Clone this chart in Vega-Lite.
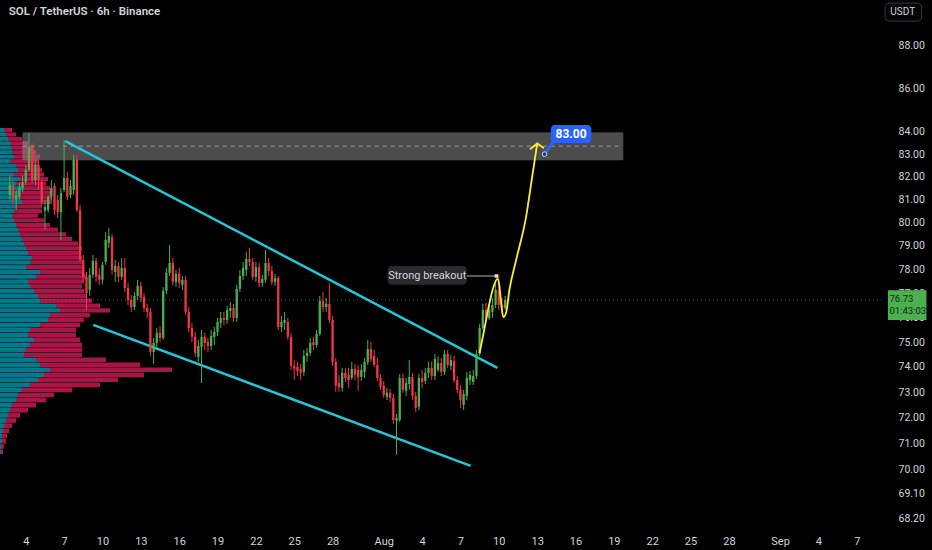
{
  "$schema": "https://vega.github.io/schema/vega-lite/v6.json",
  "width": 888,
  "height": 528,
  "autosize": {"type": "none"},
  "padding": {"left": 0, "top": 0, "right": 44, "bottom": 22},
  "background": "#000000",
  "config": {
    "view": {"stroke": null},
    "font": "Roboto",
    "text": {"font": "Roboto"}
  },
  "datasets": {
    "candles": [
      {"t":"2025-07-02T18:00Z","o":81.19,"h":82.07,"l":80.98,"c":81.63},
      {"t":"2025-07-03T00:00Z","o":81.63,"h":81.85,"l":80.76,"c":80.98},
      {"t":"2025-07-03T06:00Z","o":80.98,"h":81.41,"l":80.54,"c":81.19},
      {"t":"2025-07-03T12:00Z","o":81.11,"h":81.72,"l":80.98,"c":81.55},
      {"t":"2025-07-03T18:00Z","o":81.50,"h":82.07,"l":81.33,"c":81.77},
      {"t":"2025-07-04T00:00Z","o":81.77,"h":82.52,"l":81.63,"c":82.30},
      {"t":"2025-07-04T06:00Z","o":82.30,"h":83.95,"l":82.21,"c":83.32},
      {"t":"2025-07-04T12:00Z","o":83.32,"h":83.50,"l":81.72,"c":81.85},
      {"t":"2025-07-04T18:00Z","o":81.85,"h":82.74,"l":81.63,"c":82.52},
      {"t":"2025-07-05T00:00Z","o":82.52,"h":82.74,"l":81.41,"c":81.85},
      {"t":"2025-07-05T06:00Z","o":81.77,"h":81.85,"l":80.71,"c":80.89},
      {"t":"2025-07-05T12:00Z","o":80.50,"h":80.98,"l":79.68,"c":80.67},
      {"t":"2025-07-05T18:00Z","o":80.54,"h":81.19,"l":80.41,"c":81.11},
      {"t":"2025-07-06T00:00Z","o":81.11,"h":81.85,"l":80.98,"c":81.50},
      {"t":"2025-07-06T06:00Z","o":81.59,"h":81.72,"l":80.32,"c":80.54},
      {"t":"2025-07-06T12:00Z","o":80.98,"h":81.19,"l":80.19,"c":80.45},
      {"t":"2025-07-06T18:00Z","o":80.45,"h":81.50,"l":79.25,"c":81.28},
      {"t":"2025-07-07T00:00Z","o":81.41,"h":83.64,"l":81.33,"c":81.94},
      {"t":"2025-07-07T06:00Z","o":81.94,"h":82.21,"l":80.98,"c":81.11},
      {"t":"2025-07-07T12:00Z","o":81.19,"h":81.85,"l":81.06,"c":81.59},
      {"t":"2025-07-07T18:00Z","o":81.41,"h":82.96,"l":81.19,"c":82.74},
      {"t":"2025-07-08T00:00Z","o":82.74,"h":82.96,"l":80.45,"c":80.54},
      {"t":"2025-07-08T06:00Z","o":80.54,"h":80.76,"l":78.31,"c":78.40},
      {"t":"2025-07-08T12:00Z","o":78.40,"h":78.61,"l":77.47,"c":77.68},
      {"t":"2025-07-08T18:00Z","o":77.68,"h":77.89,"l":76.31,"c":77.01},
      {"t":"2025-07-09T00:00Z","o":77.14,"h":78.06,"l":76.89,"c":77.77},
      {"t":"2025-07-09T06:00Z","o":77.77,"h":78.61,"l":77.64,"c":78.35},
      {"t":"2025-07-09T12:00Z","o":78.35,"h":78.48,"l":77.47,"c":77.68},
      {"t":"2025-07-09T18:00Z","o":77.77,"h":78.06,"l":77.35,"c":77.56},
      {"t":"2025-07-10T00:00Z","o":77.56,"h":78.31,"l":77.39,"c":78.19},
      {"t":"2025-07-10T06:00Z","o":78.31,"h":79.59,"l":78.19,"c":79.25},
      {"t":"2025-07-10T12:00Z","o":79.12,"h":79.76,"l":78.91,"c":79.42},
      {"t":"2025-07-10T18:00Z","o":79.38,"h":79.50,"l":77.77,"c":77.98},
      {"t":"2025-07-11T00:00Z","o":77.89,"h":78.40,"l":77.47,"c":78.14},
      {"t":"2025-07-11T06:00Z","o":78.14,"h":78.31,"l":77.47,"c":77.68},
      {"t":"2025-07-11T12:00Z","o":77.68,"h":78.48,"l":77.56,"c":78.06},
      {"t":"2025-07-11T18:00Z","o":78.06,"h":78.48,"l":77.05,"c":77.22},
      {"t":"2025-07-12T00:00Z","o":77.22,"h":77.43,"l":76.52,"c":76.72},
      {"t":"2025-07-12T06:00Z","o":76.72,"h":76.93,"l":76.23,"c":76.43},
      {"t":"2025-07-12T12:00Z","o":76.43,"h":77.05,"l":76.31,"c":76.89},
      {"t":"2025-07-12T18:00Z","o":76.89,"h":77.56,"l":76.72,"c":77.31},
      {"t":"2025-07-13T00:00Z","o":77.31,"h":77.47,"l":76.64,"c":76.81},
      {"t":"2025-07-13T06:00Z","o":76.85,"h":77.01,"l":76.23,"c":76.39},
      {"t":"2025-07-13T12:00Z","o":76.39,"h":76.56,"l":75.98,"c":76.23},
      {"t":"2025-07-13T18:00Z","o":76.23,"h":76.39,"l":74.44,"c":74.60},
      {"t":"2025-07-14T00:00Z","o":74.60,"h":75.17,"l":74.12,"c":74.96},
      {"t":"2025-07-14T06:00Z","o":74.96,"h":75.57,"l":74.80,"c":75.37},
      {"t":"2025-07-14T12:00Z","o":75.37,"h":75.65,"l":75.00,"c":75.17},
      {"t":"2025-07-14T18:00Z","o":75.17,"h":77.26,"l":75.09,"c":77.10},
      {"t":"2025-07-15T00:00Z","o":77.10,"h":78.06,"l":76.97,"c":77.85},
      {"t":"2025-07-15T06:00Z","o":77.85,"h":79.03,"l":77.72,"c":78.27},
      {"t":"2025-07-15T12:00Z","o":78.27,"h":78.48,"l":77.31,"c":77.47},
      {"t":"2025-07-15T18:00Z","o":77.47,"h":77.98,"l":77.26,"c":77.81},
      {"t":"2025-07-16T00:00Z","o":77.81,"h":78.06,"l":77.22,"c":77.43},
      {"t":"2025-07-16T06:00Z","o":77.35,"h":77.72,"l":77.14,"c":77.56},
      {"t":"2025-07-16T12:00Z","o":77.56,"h":77.72,"l":76.11,"c":76.23},
      {"t":"2025-07-16T18:00Z","o":76.23,"h":76.43,"l":75.41,"c":75.57},
      {"t":"2025-07-17T00:00Z","o":75.57,"h":75.78,"l":75.00,"c":75.21},
      {"t":"2025-07-17T06:00Z","o":75.21,"h":75.41,"l":74.40,"c":74.56},
      {"t":"2025-07-17T12:00Z","o":74.40,"h":75.09,"l":74.20,"c":74.84},
      {"t":"2025-07-17T18:00Z","o":74.80,"h":75.49,"l":73.36,"c":75.21},
      {"t":"2025-07-18T00:00Z","o":75.21,"h":75.37,"l":74.68,"c":74.96},
      {"t":"2025-07-18T06:00Z","o":75.00,"h":75.17,"l":74.60,"c":74.84},
      {"t":"2025-07-18T12:00Z","o":74.84,"h":75.49,"l":74.68,"c":75.25},
      {"t":"2025-07-18T18:00Z","o":75.21,"h":75.61,"l":74.88,"c":75.41},
      {"t":"2025-07-19T00:00Z","o":75.41,"h":75.98,"l":75.25,"c":75.82},
      {"t":"2025-07-19T06:00Z","o":75.78,"h":76.23,"l":75.57,"c":75.98},
      {"t":"2025-07-19T12:00Z","o":75.98,"h":76.23,"l":75.70,"c":75.90},
      {"t":"2025-07-19T18:00Z","o":75.90,"h":76.48,"l":75.74,"c":76.31},
      {"t":"2025-07-20T00:00Z","o":76.27,"h":76.64,"l":75.98,"c":76.39},
      {"t":"2025-07-20T06:00Z","o":76.39,"h":76.56,"l":75.82,"c":75.98},
      {"t":"2025-07-20T12:00Z","o":75.98,"h":77.35,"l":75.82,"c":77.18},
      {"t":"2025-07-20T18:00Z","o":77.18,"h":77.98,"l":77.05,"c":77.72},
      {"t":"2025-07-21T00:00Z","o":77.72,"h":78.31,"l":77.56,"c":78.06},
      {"t":"2025-07-21T06:00Z","o":77.98,"h":78.74,"l":77.72,"c":78.44},
      {"t":"2025-07-21T12:00Z","o":78.44,"h":78.91,"l":78.14,"c":78.31},
      {"t":"2025-07-21T18:00Z","o":78.31,"h":78.48,"l":77.56,"c":77.68},
      {"t":"2025-07-22T00:00Z","o":77.68,"h":78.31,"l":77.47,"c":78.10},
      {"t":"2025-07-22T06:00Z","o":78.10,"h":78.27,"l":77.26,"c":77.43},
      {"t":"2025-07-22T12:00Z","o":77.43,"h":77.77,"l":77.26,"c":77.60},
      {"t":"2025-07-22T18:00Z","o":77.56,"h":78.82,"l":77.43,"c":78.27},
      {"t":"2025-07-23T00:00Z","o":78.27,"h":78.48,"l":77.72,"c":77.93},
      {"t":"2025-07-23T06:00Z","o":77.93,"h":78.14,"l":77.35,"c":77.47},
      {"t":"2025-07-23T12:00Z","o":77.47,"h":77.81,"l":77.31,"c":77.64},
      {"t":"2025-07-23T18:00Z","o":77.64,"h":77.72,"l":75.49,"c":75.61},
      {"t":"2025-07-24T00:00Z","o":75.61,"h":76.06,"l":75.41,"c":75.82},
      {"t":"2025-07-24T06:00Z","o":75.78,"h":76.23,"l":75.49,"c":75.90},
      {"t":"2025-07-24T12:00Z","o":75.82,"h":75.98,"l":75.09,"c":75.21},
      {"t":"2025-07-24T18:00Z","o":75.21,"h":75.37,"l":73.88,"c":74.04},
      {"t":"2025-07-25T00:00Z","o":74.04,"h":74.28,"l":73.48,"c":73.92},
      {"t":"2025-07-25T06:00Z","o":74.00,"h":74.20,"l":73.64,"c":73.84},
      {"t":"2025-07-25T12:00Z","o":73.92,"h":74.12,"l":73.48,"c":73.76},
      {"t":"2025-07-25T18:00Z","o":73.80,"h":74.68,"l":73.64,"c":74.44},
      {"t":"2025-07-26T00:00Z","o":74.44,"h":74.76,"l":74.20,"c":74.56},
      {"t":"2025-07-26T06:00Z","o":74.56,"h":75.17,"l":74.44,"c":74.96},
      {"t":"2025-07-26T12:00Z","o":75.00,"h":75.21,"l":74.68,"c":74.88},
      {"t":"2025-07-26T18:00Z","o":74.88,"h":75.49,"l":74.76,"c":75.33},
      {"t":"2025-07-27T00:00Z","o":75.33,"h":76.89,"l":75.25,"c":76.68},
      {"t":"2025-07-27T06:00Z","o":76.68,"h":77.05,"l":76.23,"c":76.43},
      {"t":"2025-07-27T12:00Z","o":76.43,"h":76.81,"l":76.23,"c":76.56},
      {"t":"2025-07-27T18:00Z","o":76.56,"h":77.43,"l":75.78,"c":75.90},
      {"t":"2025-07-28T00:00Z","o":75.90,"h":76.06,"l":74.04,"c":74.20},
      {"t":"2025-07-28T06:00Z","o":74.20,"h":74.36,"l":73.01,"c":73.25},
      {"t":"2025-07-28T12:00Z","o":73.36,"h":73.68,"l":73.01,"c":73.20},
      {"t":"2025-07-28T18:00Z","o":73.17,"h":73.96,"l":73.01,"c":73.76},
      {"t":"2025-07-29T00:00Z","o":73.76,"h":73.96,"l":73.40,"c":73.56},
      {"t":"2025-07-29T06:00Z","o":73.68,"h":73.96,"l":73.17,"c":73.48},
      {"t":"2025-07-29T12:00Z","o":73.56,"h":74.20,"l":73.48,"c":73.92},
      {"t":"2025-07-29T18:00Z","o":73.92,"h":74.12,"l":73.48,"c":73.68},
      {"t":"2025-07-30T00:00Z","o":73.88,"h":74.08,"l":73.05,"c":73.60},
      {"t":"2025-07-30T06:00Z","o":73.60,"h":74.12,"l":73.44,"c":73.88},
      {"t":"2025-07-30T12:00Z","o":73.80,"h":74.36,"l":73.56,"c":74.20},
      {"t":"2025-07-30T18:00Z","o":74.20,"h":75.09,"l":74.08,"c":74.72},
      {"t":"2025-07-31T00:00Z","o":74.72,"h":75.00,"l":74.20,"c":74.32},
      {"t":"2025-07-31T06:00Z","o":74.44,"h":74.68,"l":74.00,"c":74.08},
      {"t":"2025-07-31T12:00Z","o":74.08,"h":74.36,"l":73.44,"c":73.56},
      {"t":"2025-07-31T18:00Z","o":73.56,"h":73.72,"l":73.09,"c":73.20},
      {"t":"2025-08-01T00:00Z","o":73.25,"h":73.44,"l":72.77,"c":72.89},
      {"t":"2025-08-01T06:00Z","o":72.81,"h":73.17,"l":72.69,"c":72.97},
      {"t":"2025-08-01T12:00Z","o":72.97,"h":73.13,"l":72.62,"c":72.77},
      {"t":"2025-08-01T18:00Z","o":72.77,"h":72.93,"l":71.76,"c":71.91},
      {"t":"2025-08-02T00:00Z","o":71.88,"h":72.15,"l":70.57,"c":71.99},
      {"t":"2025-08-02T06:00Z","o":71.91,"h":73.72,"l":71.84,"c":73.56},
      {"t":"2025-08-02T12:00Z","o":73.56,"h":73.72,"l":72.97,"c":73.09},
      {"t":"2025-08-02T18:00Z","o":73.05,"h":73.56,"l":72.85,"c":73.36},
      {"t":"2025-08-03T00:00Z","o":73.32,"h":74.28,"l":73.09,"c":73.60},
      {"t":"2025-08-03T06:00Z","o":73.60,"h":73.76,"l":72.69,"c":72.85},
      {"t":"2025-08-03T12:00Z","o":72.85,"h":73.01,"l":72.23,"c":72.38},
      {"t":"2025-08-03T18:00Z","o":72.42,"h":73.72,"l":72.30,"c":73.56},
      {"t":"2025-08-04T00:00Z","o":73.56,"h":73.88,"l":73.17,"c":73.40},
      {"t":"2025-08-04T06:00Z","o":73.44,"h":73.96,"l":73.32,"c":73.76},
      {"t":"2025-08-04T12:00Z","o":73.76,"h":74.20,"l":73.56,"c":73.96},
      {"t":"2025-08-04T18:00Z","o":73.96,"h":74.20,"l":73.48,"c":73.64},
      {"t":"2025-08-05T00:00Z","o":73.64,"h":74.52,"l":73.48,"c":74.32},
      {"t":"2025-08-05T06:00Z","o":73.88,"h":74.44,"l":73.80,"c":74.16},
      {"t":"2025-08-05T12:00Z","o":74.16,"h":74.36,"l":73.64,"c":73.80},
      {"t":"2025-08-05T18:00Z","o":73.80,"h":74.68,"l":73.68,"c":74.52},
      {"t":"2025-08-06T00:00Z","o":74.52,"h":74.68,"l":73.96,"c":74.08},
      {"t":"2025-08-06T06:00Z","o":74.04,"h":74.48,"l":73.88,"c":74.28},
      {"t":"2025-08-06T12:00Z","o":74.24,"h":74.44,"l":73.36,"c":73.48},
      {"t":"2025-08-06T18:00Z","o":73.48,"h":73.64,"l":72.97,"c":73.09},
      {"t":"2025-08-07T00:00Z","o":73.09,"h":73.28,"l":72.38,"c":72.69},
      {"t":"2025-08-07T06:00Z","o":72.50,"h":73.09,"l":72.30,"c":72.93},
      {"t":"2025-08-07T12:00Z","o":72.85,"h":73.80,"l":72.69,"c":73.56},
      {"t":"2025-08-07T18:00Z","o":73.48,"h":73.84,"l":73.28,"c":73.68},
      {"t":"2025-08-08T00:00Z","o":73.40,"h":73.88,"l":73.28,"c":73.64},
      {"t":"2025-08-08T06:00Z","o":73.64,"h":74.68,"l":73.52,"c":74.52},
      {"t":"2025-08-08T12:00Z","o":74.52,"h":75.74,"l":74.44,"c":75.57},
      {"t":"2025-08-08T18:00Z","o":75.57,"h":76.56,"l":75.49,"c":76.31},
      {"t":"2025-08-09T00:00Z","o":76.31,"h":76.60,"l":75.82,"c":75.98},
      {"t":"2025-08-09T06:00Z","o":75.98,"h":76.56,"l":75.90,"c":76.31},
      {"t":"2025-08-09T12:00Z","o":76.23,"h":76.81,"l":75.98,"c":76.52},
      {"t":"2025-08-09T18:00Z","o":76.52,"h":77.43,"l":76.39,"c":77.14},
      {"t":"2025-08-10T00:00Z","o":77.14,"h":77.77,"l":76.31,"c":76.52},
      {"t":"2025-08-10T06:00Z","o":76.52,"h":76.81,"l":76.15,"c":76.39},
      {"t":"2025-08-10T12:00Z","o":76.39,"h":76.89,"l":76.31,"c":76.73}
    ],
    "profile": [
      {"lo":84.0,"hi":84.18,"up":4,"tot":12},
      {"lo":83.8,"hi":83.98,"up":6,"tot":16},
      {"lo":83.6,"hi":83.78,"up":8,"tot":22},
      {"lo":83.4,"hi":83.58,"up":10,"tot":28},
      {"lo":83.2,"hi":83.38,"up":12,"tot":34},
      {"lo":83.0,"hi":83.18,"up":12,"tot":36},
      {"lo":82.8,"hi":82.98,"up":14,"tot":40},
      {"lo":82.6,"hi":82.78,"up":10,"tot":38},
      {"lo":82.4,"hi":82.58,"up":16,"tot":38},
      {"lo":82.2,"hi":82.38,"up":18,"tot":42},
      {"lo":82.0,"hi":82.18,"up":14,"tot":44},
      {"lo":81.8,"hi":81.98,"up":20,"tot":48},
      {"lo":81.6,"hi":81.78,"up":16,"tot":46},
      {"lo":81.4,"hi":81.58,"up":24,"tot":50},
      {"lo":81.2,"hi":81.38,"up":20,"tot":52},
      {"lo":81.0,"hi":81.18,"up":18,"tot":52},
      {"lo":80.8,"hi":80.98,"up":22,"tot":52},
      {"lo":80.6,"hi":80.78,"up":16,"tot":42},
      {"lo":80.4,"hi":80.58,"up":14,"tot":42},
      {"lo":80.2,"hi":80.38,"up":12,"tot":38},
      {"lo":80.0,"hi":80.18,"up":14,"tot":44},
      {"lo":79.8,"hi":79.98,"up":16,"tot":50},
      {"lo":79.6,"hi":79.78,"up":18,"tot":58},
      {"lo":79.4,"hi":79.58,"up":20,"tot":66},
      {"lo":79.2,"hi":79.38,"up":22,"tot":72},
      {"lo":79.0,"hi":79.18,"up":24,"tot":78},
      {"lo":78.8,"hi":78.98,"up":26,"tot":82},
      {"lo":78.6,"hi":78.78,"up":28,"tot":80},
      {"lo":78.4,"hi":78.58,"up":32,"tot":82},
      {"lo":78.2,"hi":78.38,"up":30,"tot":82},
      {"lo":78.0,"hi":78.18,"up":26,"tot":84},
      {"lo":77.8,"hi":77.98,"up":40,"tot":84},
      {"lo":77.6,"hi":77.78,"up":36,"tot":86},
      {"lo":77.4,"hi":77.58,"up":28,"tot":84},
      {"lo":77.2,"hi":77.38,"up":30,"tot":82},
      {"lo":77.0,"hi":77.18,"up":34,"tot":84},
      {"lo":76.8,"hi":76.98,"up":38,"tot":86},
      {"lo":76.6,"hi":76.78,"up":40,"tot":92},
      {"lo":76.4,"hi":76.58,"up":56,"tot":100},
      {"lo":76.2,"hi":76.38,"up":60,"tot":110},
      {"lo":76.0,"hi":76.18,"up":50,"tot":90},
      {"lo":75.8,"hi":75.98,"up":48,"tot":84},
      {"lo":75.6,"hi":75.78,"up":40,"tot":80},
      {"lo":75.4,"hi":75.58,"up":30,"tot":76},
      {"lo":75.2,"hi":75.38,"up":28,"tot":76},
      {"lo":75.0,"hi":75.18,"up":34,"tot":80},
      {"lo":74.8,"hi":74.98,"up":30,"tot":82},
      {"lo":74.6,"hi":74.78,"up":26,"tot":82},
      {"lo":74.4,"hi":74.58,"up":24,"tot":82},
      {"lo":74.2,"hi":74.38,"up":36,"tot":106},
      {"lo":74.0,"hi":74.18,"up":40,"tot":140},
      {"lo":73.8,"hi":73.98,"up":50,"tot":172},
      {"lo":73.6,"hi":73.78,"up":44,"tot":144},
      {"lo":73.4,"hi":73.58,"up":38,"tot":118},
      {"lo":73.2,"hi":73.38,"up":30,"tot":100},
      {"lo":73.0,"hi":73.18,"up":22,"tot":72},
      {"lo":72.8,"hi":72.98,"up":18,"tot":54},
      {"lo":72.6,"hi":72.78,"up":16,"tot":46},
      {"lo":72.4,"hi":72.58,"up":12,"tot":36},
      {"lo":72.2,"hi":72.38,"up":10,"tot":28},
      {"lo":72.0,"hi":72.18,"up":8,"tot":20},
      {"lo":71.8,"hi":71.98,"up":6,"tot":16},
      {"lo":71.6,"hi":71.78,"up":4,"tot":12},
      {"lo":71.4,"hi":71.58,"up":3,"tot":9},
      {"lo":71.2,"hi":71.38,"up":2,"tot":7},
      {"lo":71.0,"hi":71.18,"up":2,"tot":6},
      {"lo":70.8,"hi":70.98,"up":1,"tot":4},
      {"lo":70.6,"hi":70.78,"up":1,"tot":3}
    ],
    "channel": [
      {"id":"upper","t":"2025-07-07T02:15Z","p":83.59},
      {"id":"upper","t":"2025-08-09T21:23Z","p":73.96},
      {"id":"lower","t":"2025-07-09T06:46Z","p":75.70},
      {"id":"lower","t":"2025-08-07T19:16Z","p":70.15}
    ],
    "curve": [
      {"i":0,"t":"2025-08-08T11:58Z","p":74.56},
      {"i":1,"t":"2025-08-08T21:16Z","p":75.57},
      {"i":2,"t":"2025-08-09T06:33Z","p":76.60},
      {"i":3,"t":"2025-08-09T13:58Z","p":77.26},
      {"i":4,"t":"2025-08-09T21:23Z","p":77.60},
      {"i":5,"t":"2025-08-10T01:06Z","p":77.31},
      {"i":6,"t":"2025-08-10T04:48Z","p":76.52},
      {"i":7,"t":"2025-08-10T08:31Z","p":76.02},
      {"i":8,"t":"2025-08-10T14:05Z","p":76.23},
      {"i":9,"t":"2025-08-10T19:39Z","p":77.10},
      {"i":10,"t":"2025-08-11T08:40Z","p":78.40},
      {"i":11,"t":"2025-08-12T03:13Z","p":80.24},
      {"i":12,"t":"2025-08-12T14:21Z","p":81.94},
      {"i":13,"t":"2025-08-12T21:46Z","p":83.10},
      {"i":14,"t":"2025-08-13T00:11Z","p":83.48}
    ],
    "head": [
      {"i":0,"t":"2025-08-12T10:38Z","p":83.22},
      {"i":1,"t":"2025-08-13T00:11Z","p":83.49},
      {"i":2,"t":"2025-08-13T12:37Z","p":83.27}
    ]
  },
  "layer": [
    {
      "data": {"name": "profile"},
      "layer": [
        {
          "mark": {"type": "bar", "color": "#e91e63", "opacity": 0.72},
          "encoding": {
            "x": {"field": "tot", "type": "quantitative", "scale": {"domain": [0, 888], "nice": false, "zero": true}, "axis": null},
            "x2": {"field": "up"},
            "y": {"field": "lo", "type": "quantitative", "scale": {"type": "log", "domain": [67.84, 90.2], "nice": false, "zero": false}},
            "y2": {"field": "hi"}
          }
        },
        {
          "mark": {"type": "bar", "color": "#00bcd4", "opacity": 0.65},
          "encoding": {
            "x": {"field": "up", "type": "quantitative"},
            "x2": {"datum": 0},
            "y": {"field": "lo", "type": "quantitative"},
            "y2": {"field": "hi"}
          }
        }
      ]
    },
    {
      "layer": [
        {
          "data": {"values": [{"t": "2025-07-03T18:26Z", "t2": "2025-08-19T17:05Z", "p": 83.97, "p2": 82.74}]},
          "mark": {"type": "rect", "color": "#8a8a8a", "opacity": 0.55, "stroke": "#9598a1", "strokeWidth": 1, "strokeOpacity": 0.6},
          "encoding": {
            "x": {"field": "t", "type": "temporal"},
            "x2": {"field": "t2"},
            "y": {"field": "p", "type": "quantitative"},
            "y2": {"field": "p2"}
          }
        },
        {
          "data": {"values": [{"t": "2025-07-03T18:26Z", "t2": "2025-08-19T17:05Z", "p": 83.36}]},
          "mark": {"type": "rule", "color": "#a0a0a0", "strokeDash": [4, 4], "strokeWidth": 1},
          "encoding": {
            "x": {"field": "t", "type": "temporal"},
            "x2": {"field": "t2"},
            "y": {"field": "p", "type": "quantitative"}
          }
        },
        {
          "data": {"values": [{"t": "2025-07-02T09:01Z", "t2": "2025-09-09T01:16Z", "p": 76.73}]},
          "mark": {"type": "rule", "color": "#4caf50", "opacity": 0.6, "strokeDash": [1, 3], "strokeWidth": 1},
          "encoding": {
            "x": {"field": "t", "type": "temporal"},
            "x2": {"field": "t2"},
            "y": {"field": "p", "type": "quantitative"}
          }
        },
        {
          "data": {"name": "channel"},
          "mark": {"type": "line", "color": "#26c6da", "strokeWidth": 2.5},
          "encoding": {
            "x": {"field": "t", "type": "temporal"},
            "y": {"field": "p", "type": "quantitative"},
            "detail": {"field": "id", "type": "nominal"}
          }
        },
        {
          "data": {"name": "candles"},
          "mark": {"type": "rule", "strokeWidth": 1},
          "encoding": {
            "x": {
              "field": "t", "type": "temporal", "title": null,
              "scale": {"type": "utc", "domain": [
                {"year": 2025, "month": 7, "date": 2, "hours": 9, "minutes": 1, "utc": true},
                {"year": 2025, "month": 9, "date": 9, "hours": 1, "minutes": 16, "utc": true}
              ]},
              "axis": {
                "orient": "bottom",
                "values": [
                  {"year": 2025, "month": 7, "date": 4, "utc": true},
                  {"year": 2025, "month": 7, "date": 7, "utc": true},
                  {"year": 2025, "month": 7, "date": 10, "utc": true},
                  {"year": 2025, "month": 7, "date": 13, "utc": true},
                  {"year": 2025, "month": 7, "date": 16, "utc": true},
                  {"year": 2025, "month": 7, "date": 19, "utc": true},
                  {"year": 2025, "month": 7, "date": 22, "utc": true},
                  {"year": 2025, "month": 7, "date": 25, "utc": true},
                  {"year": 2025, "month": 7, "date": 28, "utc": true},
                  {"year": 2025, "month": 8, "date": 1, "utc": true},
                  {"year": 2025, "month": 8, "date": 4, "utc": true},
                  {"year": 2025, "month": 8, "date": 7, "utc": true},
                  {"year": 2025, "month": 8, "date": 10, "utc": true},
                  {"year": 2025, "month": 8, "date": 13, "utc": true},
                  {"year": 2025, "month": 8, "date": 16, "utc": true},
                  {"year": 2025, "month": 8, "date": 19, "utc": true},
                  {"year": 2025, "month": 8, "date": 22, "utc": true},
                  {"year": 2025, "month": 8, "date": 25, "utc": true},
                  {"year": 2025, "month": 8, "date": 28, "utc": true},
                  {"year": 2025, "month": 9, "date": 1, "utc": true},
                  {"year": 2025, "month": 9, "date": 4, "utc": true},
                  {"year": 2025, "month": 9, "date": 7, "utc": true}
                ],
                "labelExpr": "utcdate(datum.value) == 1 ? utcFormat(datum.value, '%b') : utcFormat(datum.value, '%-d')",
                "grid": false, "ticks": false, "domain": false,
                "labelColor": "#d1d4dc", "labelFontSize": 11, "labelPadding": 7,
                "labelOverlap": false, "labelFlush": false
              }
            },
            "y": {
              "field": "l", "type": "quantitative", "title": null,
              "scale": {"type": "log", "domain": [67.84, 90.2], "nice": false, "zero": false},
              "axis": {
                "orient": "right",
                "values": [88, 86, 84, 83, 82, 81, 80, 79, 78, 77, 76, 75, 74, 73, 72, 71, 70, 69.1, 68.2],
                "format": ".2f",
                "grid": false, "ticks": false, "domain": false,
                "labelColor": "#d1d4dc", "labelFontSize": 10.5, "labelPadding": 10
              }
            },
            "y2": {"field": "h"},
            "color": {"condition": {"test": "datum.c >= datum.o", "value": "#4caf50"}, "value": "#f23645"}
          }
        },
        {
          "data": {"name": "candles"},
          "mark": {"type": "bar", "width": 2.3},
          "encoding": {
            "x": {"field": "t", "type": "temporal"},
            "y": {"field": "o", "type": "quantitative"},
            "y2": {"field": "c"},
            "color": {"condition": {"test": "datum.c >= datum.o", "value": "#4caf50"}, "value": "#f23645"}
          }
        },
        {
          "data": {"name": "curve"},
          "mark": {"type": "line", "color": "#ffeb3b", "strokeWidth": 1.8, "interpolate": "monotone"},
          "encoding": {
            "x": {"field": "t", "type": "temporal"},
            "y": {"field": "p", "type": "quantitative"},
            "order": {"field": "i", "type": "quantitative"}
          }
        },
        {
          "data": {"name": "head"},
          "mark": {"type": "line", "color": "#ffeb3b", "strokeWidth": 1.8},
          "encoding": {
            "x": {"field": "t", "type": "temporal"},
            "y": {"field": "p", "type": "quantitative"},
            "order": {"field": "i", "type": "quantitative"}
          }
        },
        {
          "data": {"values": [{"t": "2025-08-07T11:47Z", "t2": "2025-08-09T19:30Z", "p": 77.72}]},
          "mark": {"type": "rule", "color": "#b2b5be", "strokeWidth": 1},
          "encoding": {
            "x": {"field": "t", "type": "temporal"},
            "x2": {"field": "t2"},
            "y": {"field": "p", "type": "quantitative"}
          }
        },
        {
          "data": {"values": [{"t": "2025-08-09T19:30Z", "p": 77.72}]},
          "mark": {"type": "square", "color": "#e0e3eb", "opacity": 1, "size": 12},
          "encoding": {
            "x": {"field": "t", "type": "temporal"},
            "y": {"field": "p", "type": "quantitative"}
          }
        },
        {
          "data": {"values": [{"t": "2025-08-01T07:26Z", "t2": "2025-08-07T11:47Z", "p": 78.14, "p2": 77.35}]},
          "mark": {"type": "rect", "color": "#2a2a2e", "cornerRadius": 4},
          "encoding": {
            "x": {"field": "t", "type": "temporal"},
            "x2": {"field": "t2"},
            "y": {"field": "p", "type": "quantitative"},
            "y2": {"field": "p2"}
          }
        },
        {
          "data": {"values": [{"t": "2025-08-04T09:36Z", "p": 77.74, "label": "Strong breakout"}]},
          "mark": {"type": "text", "color": "#d1d4dc", "fontSize": 11, "align": "center", "baseline": "middle"},
          "encoding": {
            "x": {"field": "t", "type": "temporal"},
            "y": {"field": "p", "type": "quantitative"},
            "text": {"field": "label", "type": "nominal"}
          }
        },
        {
          "data": {"values": [{"t": "2025-08-14T09:00Z", "p": 83.64, "i": 0}, {"t": "2025-08-13T13:55Z", "p": 83.0, "i": 1}]},
          "mark": {"type": "line", "color": "#2962ff", "strokeWidth": 3},
          "encoding": {
            "x": {"field": "t", "type": "temporal"},
            "y": {"field": "p", "type": "quantitative"},
            "order": {"field": "i", "type": "quantitative"}
          }
        },
        {
          "data": {"values": [{"t": "2025-08-14T01:40Z", "t2": "2025-08-17T05:45Z", "p": 84.32, "p2": 83.50}]},
          "mark": {"type": "rect", "color": "#2962ff", "cornerRadius": 4},
          "encoding": {
            "x": {"field": "t", "type": "temporal"},
            "x2": {"field": "t2"},
            "y": {"field": "p", "type": "quantitative"},
            "y2": {"field": "p2"}
          }
        },
        {
          "data": {"values": [{"t": "2025-08-15T15:36Z", "p": 83.91, "label": "83.00"}]},
          "mark": {"type": "text", "color": "#ffffff", "fontSize": 12, "fontWeight": "bold", "align": "center", "baseline": "middle"},
          "encoding": {
            "x": {"field": "t", "type": "temporal"},
            "y": {"field": "p", "type": "quantitative"},
            "text": {"field": "label", "type": "nominal"}
          }
        },
        {
          "data": {"values": [{"t": "2025-08-13T13:55Z", "p": 83.0}]},
          "mark": {"type": "circle", "color": "#1a3a8f", "opacity": 1, "size": 22, "stroke": "#d1d4dc", "strokeWidth": 1},
          "encoding": {
            "x": {"field": "t", "type": "temporal"},
            "y": {"field": "p", "type": "quantitative"}
          }
        },
        {
          "data": {"values": [{"t": "2025-07-02T16:00Z", "p": 89.62, "label": "SOL / TetherUS · 6h · Binance"}]},
          "mark": {"type": "text", "color": "#d1d4dc", "fontSize": 11.5, "fontWeight": 600, "align": "left", "baseline": "middle"},
          "encoding": {
            "x": {"field": "t", "type": "temporal"},
            "y": {"field": "p", "type": "quantitative"},
            "text": {"field": "label", "type": "nominal"}
          }
        },
        {
          "data": {"values": [{"t": "2025-09-09T05:00Z", "t2": "2025-09-12T01:40Z", "p": 90.05, "p2": 89.18}]},
          "mark": {"type": "rect", "color": "#050505", "stroke": "#363a45", "strokeWidth": 1, "cornerRadius": 4},
          "encoding": {
            "x": {"field": "t", "type": "temporal"},
            "x2": {"field": "t2"},
            "y": {"field": "p", "type": "quantitative"},
            "y2": {"field": "p2"}
          }
        },
        {
          "data": {"values": [{"t": "2025-09-10T14:24Z", "p": 89.62, "label": "USDT"}]},
          "mark": {"type": "text", "color": "#d1d4dc", "fontSize": 10, "align": "center", "baseline": "middle"},
          "encoding": {
            "x": {"field": "t", "type": "temporal"},
            "y": {"field": "p", "type": "quantitative"},
            "text": {"field": "label", "type": "nominal"}
          }
        },
        {
          "data": {"values": [{"t": "2025-09-09T10:30Z", "t2": "2025-09-12T10:50Z", "p": 77.12, "p2": 75.90}]},
          "mark": {"type": "rect", "color": "#4caf50"},
          "encoding": {
            "x": {"field": "t", "type": "temporal"},
            "x2": {"field": "t2"},
            "y": {"field": "p", "type": "quantitative"},
            "y2": {"field": "p2"}
          }
        },
        {
          "data": {"values": [{"t": "2025-09-09T13:30Z", "p": 76.76, "label": "76.73"}, {"t": "2025-09-09T13:30Z", "p": 76.27, "label": "01:43:03"}]},
          "mark": {"type": "text", "color": "#0d2b0d", "fontSize": 9.5, "align": "left", "baseline": "middle"},
          "encoding": {
            "x": {"field": "t", "type": "temporal"},
            "y": {"field": "p", "type": "quantitative"},
            "text": {"field": "label", "type": "nominal"}
          }
        }
      ]
    }
  ],
  "resolve": {"scale": {"x": "independent"}}
}
